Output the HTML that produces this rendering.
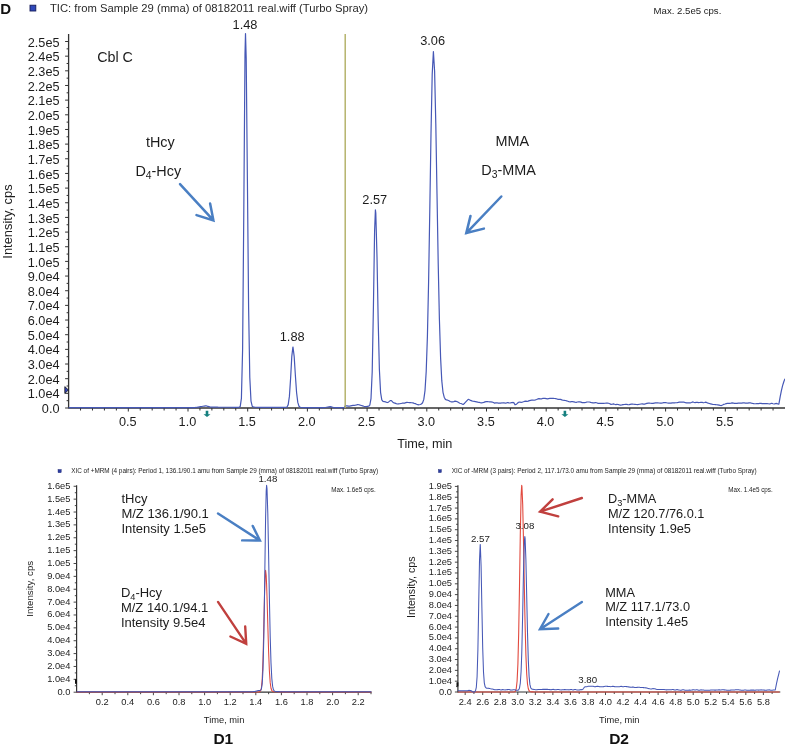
<!DOCTYPE html><html><head><meta charset="utf-8"><style>html,body{margin:0;padding:0;background:#fff;}svg{display:block;will-change:transform;}</style></head><body>
<svg width="785" height="748" viewBox="0 0 785 748" font-family='"Liberation Sans", sans-serif'>
<rect width="785" height="748" fill="#fff"/>
<text x="0.3" y="13.8" font-size="15" text-anchor="start" font-weight="bold" fill="#111" >D</text>
<rect x="30" y="5.2" width="5.8" height="5.8" fill="#3049bb" stroke="#161c5a" stroke-width="0.9"/>
<text x="50" y="12.3" font-size="11.25" text-anchor="start" font-weight="normal" fill="#2a2a2a" >TIC: from Sample 29 (mma) of 08182011 real.wiff (Turbo Spray)</text>
<text x="653.6" y="14.1" font-size="9.6" text-anchor="start" font-weight="normal" fill="#1c1c1c" >Max. 2.5e5 cps.</text>
<line x1="65.1" y1="408" x2="68.6" y2="408" stroke="#333" stroke-width="1" />
<line x1="66.6" y1="400.67" x2="68.6" y2="400.67" stroke="#333" stroke-width="1" />
<text x="59.5" y="413.1" font-size="12.7" text-anchor="end" font-weight="normal" fill="#1c1c1c" >0.0</text>
<line x1="65.1" y1="393.34" x2="68.6" y2="393.34" stroke="#333" stroke-width="1" />
<line x1="66.6" y1="386.01" x2="68.6" y2="386.01" stroke="#333" stroke-width="1" />
<text x="59.5" y="398.44" font-size="12.7" text-anchor="end" font-weight="normal" fill="#1c1c1c" >1.0e4</text>
<line x1="65.1" y1="378.68" x2="68.6" y2="378.68" stroke="#333" stroke-width="1" />
<line x1="66.6" y1="371.35" x2="68.6" y2="371.35" stroke="#333" stroke-width="1" />
<text x="59.5" y="383.78" font-size="12.7" text-anchor="end" font-weight="normal" fill="#1c1c1c" >2.0e4</text>
<line x1="65.1" y1="364.02" x2="68.6" y2="364.02" stroke="#333" stroke-width="1" />
<line x1="66.6" y1="356.69" x2="68.6" y2="356.69" stroke="#333" stroke-width="1" />
<text x="59.5" y="369.12" font-size="12.7" text-anchor="end" font-weight="normal" fill="#1c1c1c" >3.0e4</text>
<line x1="65.1" y1="349.36" x2="68.6" y2="349.36" stroke="#333" stroke-width="1" />
<line x1="66.6" y1="342.03" x2="68.6" y2="342.03" stroke="#333" stroke-width="1" />
<text x="59.5" y="354.46" font-size="12.7" text-anchor="end" font-weight="normal" fill="#1c1c1c" >4.0e4</text>
<line x1="65.1" y1="334.7" x2="68.6" y2="334.7" stroke="#333" stroke-width="1" />
<line x1="66.6" y1="327.37" x2="68.6" y2="327.37" stroke="#333" stroke-width="1" />
<text x="59.5" y="339.8" font-size="12.7" text-anchor="end" font-weight="normal" fill="#1c1c1c" >5.0e4</text>
<line x1="65.1" y1="320.04" x2="68.6" y2="320.04" stroke="#333" stroke-width="1" />
<line x1="66.6" y1="312.71" x2="68.6" y2="312.71" stroke="#333" stroke-width="1" />
<text x="59.5" y="325.14" font-size="12.7" text-anchor="end" font-weight="normal" fill="#1c1c1c" >6.0e4</text>
<line x1="65.1" y1="305.38" x2="68.6" y2="305.38" stroke="#333" stroke-width="1" />
<line x1="66.6" y1="298.05" x2="68.6" y2="298.05" stroke="#333" stroke-width="1" />
<text x="59.5" y="310.48" font-size="12.7" text-anchor="end" font-weight="normal" fill="#1c1c1c" >7.0e4</text>
<line x1="65.1" y1="290.72" x2="68.6" y2="290.72" stroke="#333" stroke-width="1" />
<line x1="66.6" y1="283.39" x2="68.6" y2="283.39" stroke="#333" stroke-width="1" />
<text x="59.5" y="295.82" font-size="12.7" text-anchor="end" font-weight="normal" fill="#1c1c1c" >8.0e4</text>
<line x1="65.1" y1="276.06" x2="68.6" y2="276.06" stroke="#333" stroke-width="1" />
<line x1="66.6" y1="268.73" x2="68.6" y2="268.73" stroke="#333" stroke-width="1" />
<text x="59.5" y="281.16" font-size="12.7" text-anchor="end" font-weight="normal" fill="#1c1c1c" >9.0e4</text>
<line x1="65.1" y1="261.4" x2="68.6" y2="261.4" stroke="#333" stroke-width="1" />
<line x1="66.6" y1="254.07" x2="68.6" y2="254.07" stroke="#333" stroke-width="1" />
<text x="59.5" y="266.5" font-size="12.7" text-anchor="end" font-weight="normal" fill="#1c1c1c" >1.0e5</text>
<line x1="65.1" y1="246.74" x2="68.6" y2="246.74" stroke="#333" stroke-width="1" />
<line x1="66.6" y1="239.41" x2="68.6" y2="239.41" stroke="#333" stroke-width="1" />
<text x="59.5" y="251.84" font-size="12.7" text-anchor="end" font-weight="normal" fill="#1c1c1c" >1.1e5</text>
<line x1="65.1" y1="232.08" x2="68.6" y2="232.08" stroke="#333" stroke-width="1" />
<line x1="66.6" y1="224.75" x2="68.6" y2="224.75" stroke="#333" stroke-width="1" />
<text x="59.5" y="237.18" font-size="12.7" text-anchor="end" font-weight="normal" fill="#1c1c1c" >1.2e5</text>
<line x1="65.1" y1="217.42" x2="68.6" y2="217.42" stroke="#333" stroke-width="1" />
<line x1="66.6" y1="210.09" x2="68.6" y2="210.09" stroke="#333" stroke-width="1" />
<text x="59.5" y="222.52" font-size="12.7" text-anchor="end" font-weight="normal" fill="#1c1c1c" >1.3e5</text>
<line x1="65.1" y1="202.76" x2="68.6" y2="202.76" stroke="#333" stroke-width="1" />
<line x1="66.6" y1="195.43" x2="68.6" y2="195.43" stroke="#333" stroke-width="1" />
<text x="59.5" y="207.86" font-size="12.7" text-anchor="end" font-weight="normal" fill="#1c1c1c" >1.4e5</text>
<line x1="65.1" y1="188.1" x2="68.6" y2="188.1" stroke="#333" stroke-width="1" />
<line x1="66.6" y1="180.77" x2="68.6" y2="180.77" stroke="#333" stroke-width="1" />
<text x="59.5" y="193.2" font-size="12.7" text-anchor="end" font-weight="normal" fill="#1c1c1c" >1.5e5</text>
<line x1="65.1" y1="173.44" x2="68.6" y2="173.44" stroke="#333" stroke-width="1" />
<line x1="66.6" y1="166.11" x2="68.6" y2="166.11" stroke="#333" stroke-width="1" />
<text x="59.5" y="178.54" font-size="12.7" text-anchor="end" font-weight="normal" fill="#1c1c1c" >1.6e5</text>
<line x1="65.1" y1="158.78" x2="68.6" y2="158.78" stroke="#333" stroke-width="1" />
<line x1="66.6" y1="151.45" x2="68.6" y2="151.45" stroke="#333" stroke-width="1" />
<text x="59.5" y="163.88" font-size="12.7" text-anchor="end" font-weight="normal" fill="#1c1c1c" >1.7e5</text>
<line x1="65.1" y1="144.12" x2="68.6" y2="144.12" stroke="#333" stroke-width="1" />
<line x1="66.6" y1="136.79" x2="68.6" y2="136.79" stroke="#333" stroke-width="1" />
<text x="59.5" y="149.22" font-size="12.7" text-anchor="end" font-weight="normal" fill="#1c1c1c" >1.8e5</text>
<line x1="65.1" y1="129.46" x2="68.6" y2="129.46" stroke="#333" stroke-width="1" />
<line x1="66.6" y1="122.13" x2="68.6" y2="122.13" stroke="#333" stroke-width="1" />
<text x="59.5" y="134.56" font-size="12.7" text-anchor="end" font-weight="normal" fill="#1c1c1c" >1.9e5</text>
<line x1="65.1" y1="114.8" x2="68.6" y2="114.8" stroke="#333" stroke-width="1" />
<line x1="66.6" y1="107.47" x2="68.6" y2="107.47" stroke="#333" stroke-width="1" />
<text x="59.5" y="119.9" font-size="12.7" text-anchor="end" font-weight="normal" fill="#1c1c1c" >2.0e5</text>
<line x1="65.1" y1="100.14" x2="68.6" y2="100.14" stroke="#333" stroke-width="1" />
<line x1="66.6" y1="92.81" x2="68.6" y2="92.81" stroke="#333" stroke-width="1" />
<text x="59.5" y="105.24" font-size="12.7" text-anchor="end" font-weight="normal" fill="#1c1c1c" >2.1e5</text>
<line x1="65.1" y1="85.48" x2="68.6" y2="85.48" stroke="#333" stroke-width="1" />
<line x1="66.6" y1="78.15" x2="68.6" y2="78.15" stroke="#333" stroke-width="1" />
<text x="59.5" y="90.58" font-size="12.7" text-anchor="end" font-weight="normal" fill="#1c1c1c" >2.2e5</text>
<line x1="65.1" y1="70.82" x2="68.6" y2="70.82" stroke="#333" stroke-width="1" />
<line x1="66.6" y1="63.49" x2="68.6" y2="63.49" stroke="#333" stroke-width="1" />
<text x="59.5" y="75.92" font-size="12.7" text-anchor="end" font-weight="normal" fill="#1c1c1c" >2.3e5</text>
<line x1="65.1" y1="56.16" x2="68.6" y2="56.16" stroke="#333" stroke-width="1" />
<line x1="66.6" y1="48.83" x2="68.6" y2="48.83" stroke="#333" stroke-width="1" />
<text x="59.5" y="61.26" font-size="12.7" text-anchor="end" font-weight="normal" fill="#1c1c1c" >2.4e5</text>
<line x1="65.1" y1="41.5" x2="68.6" y2="41.5" stroke="#333" stroke-width="1" />
<text x="59.5" y="46.6" font-size="12.7" text-anchor="end" font-weight="normal" fill="#1c1c1c" >2.5e5</text>
<line x1="68.6" y1="34" x2="68.6" y2="408.5" stroke="#333" stroke-width="1.3" />
<line x1="68.6" y1="408" x2="785" y2="408" stroke="#333" stroke-width="1.3" />
<line x1="80.54" y1="408" x2="80.54" y2="410.5" stroke="#333" stroke-width="1" />
<line x1="92.48" y1="408" x2="92.48" y2="410.5" stroke="#333" stroke-width="1" />
<line x1="104.42" y1="408" x2="104.42" y2="410.5" stroke="#333" stroke-width="1" />
<line x1="116.36" y1="408" x2="116.36" y2="410.5" stroke="#333" stroke-width="1" />
<line x1="128.3" y1="408" x2="128.3" y2="411.5" stroke="#333" stroke-width="1" />
<line x1="140.24" y1="408" x2="140.24" y2="410.5" stroke="#333" stroke-width="1" />
<line x1="152.18" y1="408" x2="152.18" y2="410.5" stroke="#333" stroke-width="1" />
<line x1="164.12" y1="408" x2="164.12" y2="410.5" stroke="#333" stroke-width="1" />
<line x1="176.06" y1="408" x2="176.06" y2="410.5" stroke="#333" stroke-width="1" />
<line x1="188" y1="408" x2="188" y2="411.5" stroke="#333" stroke-width="1" />
<line x1="199.94" y1="408" x2="199.94" y2="410.5" stroke="#333" stroke-width="1" />
<line x1="211.88" y1="408" x2="211.88" y2="410.5" stroke="#333" stroke-width="1" />
<line x1="223.82" y1="408" x2="223.82" y2="410.5" stroke="#333" stroke-width="1" />
<line x1="235.76" y1="408" x2="235.76" y2="410.5" stroke="#333" stroke-width="1" />
<line x1="247.7" y1="408" x2="247.7" y2="411.5" stroke="#333" stroke-width="1" />
<line x1="259.64" y1="408" x2="259.64" y2="410.5" stroke="#333" stroke-width="1" />
<line x1="271.58" y1="408" x2="271.58" y2="410.5" stroke="#333" stroke-width="1" />
<line x1="283.52" y1="408" x2="283.52" y2="410.5" stroke="#333" stroke-width="1" />
<line x1="295.46" y1="408" x2="295.46" y2="410.5" stroke="#333" stroke-width="1" />
<line x1="307.4" y1="408" x2="307.4" y2="411.5" stroke="#333" stroke-width="1" />
<line x1="319.34" y1="408" x2="319.34" y2="410.5" stroke="#333" stroke-width="1" />
<line x1="331.28" y1="408" x2="331.28" y2="410.5" stroke="#333" stroke-width="1" />
<line x1="343.22" y1="408" x2="343.22" y2="410.5" stroke="#333" stroke-width="1" />
<line x1="355.16" y1="408" x2="355.16" y2="410.5" stroke="#333" stroke-width="1" />
<line x1="367.1" y1="408" x2="367.1" y2="411.5" stroke="#333" stroke-width="1" />
<line x1="379.04" y1="408" x2="379.04" y2="410.5" stroke="#333" stroke-width="1" />
<line x1="390.98" y1="408" x2="390.98" y2="410.5" stroke="#333" stroke-width="1" />
<line x1="402.92" y1="408" x2="402.92" y2="410.5" stroke="#333" stroke-width="1" />
<line x1="414.86" y1="408" x2="414.86" y2="410.5" stroke="#333" stroke-width="1" />
<line x1="426.8" y1="408" x2="426.8" y2="411.5" stroke="#333" stroke-width="1" />
<line x1="438.74" y1="408" x2="438.74" y2="410.5" stroke="#333" stroke-width="1" />
<line x1="450.68" y1="408" x2="450.68" y2="410.5" stroke="#333" stroke-width="1" />
<line x1="462.62" y1="408" x2="462.62" y2="410.5" stroke="#333" stroke-width="1" />
<line x1="474.56" y1="408" x2="474.56" y2="410.5" stroke="#333" stroke-width="1" />
<line x1="486.5" y1="408" x2="486.5" y2="411.5" stroke="#333" stroke-width="1" />
<line x1="498.44" y1="408" x2="498.44" y2="410.5" stroke="#333" stroke-width="1" />
<line x1="510.38" y1="408" x2="510.38" y2="410.5" stroke="#333" stroke-width="1" />
<line x1="522.32" y1="408" x2="522.32" y2="410.5" stroke="#333" stroke-width="1" />
<line x1="534.26" y1="408" x2="534.26" y2="410.5" stroke="#333" stroke-width="1" />
<line x1="546.2" y1="408" x2="546.2" y2="411.5" stroke="#333" stroke-width="1" />
<line x1="558.14" y1="408" x2="558.14" y2="410.5" stroke="#333" stroke-width="1" />
<line x1="570.08" y1="408" x2="570.08" y2="410.5" stroke="#333" stroke-width="1" />
<line x1="582.02" y1="408" x2="582.02" y2="410.5" stroke="#333" stroke-width="1" />
<line x1="593.96" y1="408" x2="593.96" y2="410.5" stroke="#333" stroke-width="1" />
<line x1="605.9" y1="408" x2="605.9" y2="411.5" stroke="#333" stroke-width="1" />
<line x1="617.84" y1="408" x2="617.84" y2="410.5" stroke="#333" stroke-width="1" />
<line x1="629.78" y1="408" x2="629.78" y2="410.5" stroke="#333" stroke-width="1" />
<line x1="641.72" y1="408" x2="641.72" y2="410.5" stroke="#333" stroke-width="1" />
<line x1="653.66" y1="408" x2="653.66" y2="410.5" stroke="#333" stroke-width="1" />
<line x1="665.6" y1="408" x2="665.6" y2="411.5" stroke="#333" stroke-width="1" />
<line x1="677.54" y1="408" x2="677.54" y2="410.5" stroke="#333" stroke-width="1" />
<line x1="689.48" y1="408" x2="689.48" y2="410.5" stroke="#333" stroke-width="1" />
<line x1="701.42" y1="408" x2="701.42" y2="410.5" stroke="#333" stroke-width="1" />
<line x1="713.36" y1="408" x2="713.36" y2="410.5" stroke="#333" stroke-width="1" />
<line x1="725.3" y1="408" x2="725.3" y2="411.5" stroke="#333" stroke-width="1" />
<line x1="737.24" y1="408" x2="737.24" y2="410.5" stroke="#333" stroke-width="1" />
<line x1="749.18" y1="408" x2="749.18" y2="410.5" stroke="#333" stroke-width="1" />
<line x1="761.12" y1="408" x2="761.12" y2="410.5" stroke="#333" stroke-width="1" />
<line x1="773.06" y1="408" x2="773.06" y2="410.5" stroke="#333" stroke-width="1" />
<text x="127.7" y="426" font-size="12.7" text-anchor="middle" font-weight="normal" fill="#1c1c1c" >0.5</text>
<text x="187.4" y="426" font-size="12.7" text-anchor="middle" font-weight="normal" fill="#1c1c1c" >1.0</text>
<text x="247.1" y="426" font-size="12.7" text-anchor="middle" font-weight="normal" fill="#1c1c1c" >1.5</text>
<text x="306.8" y="426" font-size="12.7" text-anchor="middle" font-weight="normal" fill="#1c1c1c" >2.0</text>
<text x="366.5" y="426" font-size="12.7" text-anchor="middle" font-weight="normal" fill="#1c1c1c" >2.5</text>
<text x="426.2" y="426" font-size="12.7" text-anchor="middle" font-weight="normal" fill="#1c1c1c" >3.0</text>
<text x="485.9" y="426" font-size="12.7" text-anchor="middle" font-weight="normal" fill="#1c1c1c" >3.5</text>
<text x="545.6" y="426" font-size="12.7" text-anchor="middle" font-weight="normal" fill="#1c1c1c" >4.0</text>
<text x="605.3" y="426" font-size="12.7" text-anchor="middle" font-weight="normal" fill="#1c1c1c" >4.5</text>
<text x="665" y="426" font-size="12.7" text-anchor="middle" font-weight="normal" fill="#1c1c1c" >5.0</text>
<text x="724.7" y="426" font-size="12.7" text-anchor="middle" font-weight="normal" fill="#1c1c1c" >5.5</text>
<text x="424.8" y="447.9" font-size="12.7" text-anchor="middle" font-weight="normal" fill="#1c1c1c" >Time, min</text>
<text x="0" y="0" font-size="12.9" text-anchor="middle" font-weight="normal" fill="#1c1c1c" transform="translate(11.8,221.5) rotate(-90)">Intensity, cps</text>
<path d="M68.6,407.6 L69.8,407.6 L71,407.6 L72.2,407.6 L73.4,407.6 L74.6,407.6 L75.8,407.6 L77,407.6 L78.2,407.6 L79.4,407.6 L80.6,407.6 L81.8,407.6 L83,407.6 L84.2,407.6 L85.4,407.6 L86.6,407.6 L87.8,407.6 L89,407.6 L90.2,407.6 L91.4,407.6 L92.6,407.6 L93.8,407.6 L95,407.6 L96.2,407.6 L97.4,407.6 L98.6,407.6 L99.8,407.6 L101,407.6 L102.2,407.6 L103.4,407.6 L104.6,407.6 L105.8,407.6 L107,407.6 L108.2,407.6 L109.4,407.6 L110.6,407.6 L111.8,407.6 L113,407.6 L114.2,407.6 L115.4,407.6 L116.6,407.6 L117.8,407.6 L119,407.6 L120.2,407.6 L121.4,407.6 L122.6,407.6 L123.8,407.6 L125,407.6 L126.2,407.6 L127.4,407.6 L128.6,407.6 L129.8,407.6 L131,407.6 L132.2,407.6 L133.4,407.6 L134.6,407.6 L135.8,407.6 L137,407.6 L138.2,407.6 L139.4,407.6 L140.6,407.6 L141.8,407.6 L143,407.6 L144.2,407.6 L145.4,407.6 L146.6,407.6 L147.8,407.6 L149,407.6 L150.2,407.6 L151.4,407.6 L152.6,407.6 L153.8,407.6 L155,407.6 L156.2,407.6 L157.4,407.6 L158.6,407.6 L159.8,407.6 L161,407.6 L162.2,407.6 L163.4,407.6 L164.6,407.6 L165.8,407.6 L167,407.6 L168.2,407.6 L169.4,407.6 L170.6,407.6 L171.8,407.6 L173,407.6 L174.2,407.6 L175.4,407.6 L176.6,407.6 L177.8,407.6 L179,407.6 L180.2,407.6 L181.4,407.6 L182.6,407.6 L183.8,407.6 L185,407.6 L186.2,407.6 L187.4,407.6 L188.6,407.6 L189.8,407.6 L191,407.6 L192.2,407.6 L193.4,407.6 L194.6,407.6 L195.8,407.47 L197,407.27 L198.2,407.07 L199.4,406.87 L200.6,406.67 L201.8,406.47 L203,406.28 L204.2,406.09 L205.4,405.9 L206.6,405.97 L207.8,406.3 L209,406.64 L210.2,406.98 L211.4,407.2 L212.6,407.21 L213.8,407.21 L215,407.21 L216.2,407.22 L217.4,407.22 L218.6,407.23 L219.8,407.23 L221,407.24 L222.2,407.24 L223.4,407.24 L224.6,407.25 L225.8,407.25 L227,407.26 L228.2,407.26 L229.4,407.26 L230.6,407.27 L231.8,407.27 L233,407.28 L234.2,407.28 L235.4,407.29 L236.6,407.29 L237.8,407.29 L239,407.27 L240.2,406.58 L241.4,398.39 L242.6,349.65 L243.8,210.7 L245,53.81 L245.5,33.62 L246.2,57.91 L247.4,179.74 L248.6,307.48 L249.8,377.57 L251,401.04 L252.2,406.17 L253.4,407 L254.6,407.16 L255.8,407.23 L257,407.27 L258.2,407.31 L259.4,407.33 L260.6,407.35 L261.8,407.36 L263,407.37 L264.2,407.38 L265.4,407.39 L266.6,407.39 L267.8,407.4 L269,407.4 L270.2,407.41 L271.4,407.41 L272.6,407.42 L273.8,407.42 L275,407.42 L276.2,407.43 L277.4,407.43 L278.6,407.44 L279.8,407.44 L281,407.45 L282.2,407.45 L283.4,407.45 L284.6,407.45 L285.8,407.41 L287,406.98 L288.2,404.63 L289.4,396.39 L290.6,378.4 L291.8,356.32 L292.9,346.99 L293,347.05 L294.2,356.68 L295.4,375.78 L296.6,392.79 L297.8,402.44 L299,406.21 L300.2,407.27 L301.4,407.48 L302.6,407.52 L303.8,407.53 L305,407.53 L306.2,407.53 L307.4,407.54 L308.6,407.54 L309.8,407.55 L311,407.55 L312.2,407.56 L313.4,407.56 L314.6,407.56 L315.8,407.57 L317,407.57 L318.2,407.58 L319.4,407.58 L320.6,407.58 L321.8,407.59 L323,407.59 L324.2,407.6 L325.4,407.52 L326.6,407.28 L327.8,407.04 L329,406.8 L330.2,406.65 L331.4,406.95 L332.6,407.25 L333.8,407.55 L335,407.6 L336.2,407.6 L337.4,407.6 L338.6,407.6 L339.8,407.6 L341,407.6 L342.2,407.6 L343.4,407.6 L344.6,407.6 L344.6,407.6 L345,406 L345.8,405.94 L347,405.94 L348.2,406.07 L349.4,406.22 L350.6,405.87 L351.8,405.58 L353,405.45 L354.2,405.32 L355.4,405.2 L356.6,404.94 L357.8,404.53 L359,404.78 L360.2,405.18 L361.4,405.47 L362.6,405.83 L363.8,406.3 L365,406.69 L366.2,406.65 L367.4,406.46 L368.6,406.25 L369.8,405.06 L371,398.52 L372.2,372.08 L373.4,307.81 L374.6,230.66 L375.4,209.94 L375.8,213.16 L377,257.02 L378.2,321.35 L379.4,369.75 L380.6,392.61 L381.8,399.85 L383,401.44 L384.2,401.53 L385.4,401.82 L386.6,402.29 L387.8,402.53 L389,401.61 L390.2,400.64 L391.4,400.66 L392.6,401.91 L393.8,402.86 L395,403.13 L396.2,403.58 L397.4,403.98 L398.6,403.87 L399.8,403.75 L401,403.49 L402.2,403.21 L403.4,403.17 L404.6,403.05 L405.8,402.7 L407,402.44 L408.2,402.5 L409.4,402.66 L410.6,402.61 L411.8,402.73 L413,402.94 L414.2,403.32 L415.4,403.67 L416.6,404.21 L417.8,404.7 L419,404.78 L420.2,404.5 L421.4,403.97 L422.6,402.75 L423.8,399.41 L425,390.59 L426.2,371.57 L427.4,336.63 L428.6,281.77 L429.8,209.88 L431,133.84 L432.2,74.39 L433.4,51.62 L433.4,51.62 L434.6,71.07 L435.8,123.76 L437,193.78 L438.2,263.08 L439.4,319.1 L440.6,357.87 L441.8,380.92 L443,392.27 L444.2,397.22 L445.4,399.38 L446.6,400 L447.8,400.19 L449,400.73 L450.2,401.53 L451.4,401.84 L452.6,401.9 L453.8,401.58 L455,401.19 L456.2,401.42 L457.4,401.71 L458.6,402.55 L459.8,403.26 L461,403.52 L462.2,404.07 L463.4,404.37 L464.6,403.2 L465.8,401.81 L467,400.54 L468.2,399.3 L469.4,399.77 L470.6,400.43 L471.8,400.89 L473,401.24 L474.2,401.35 L475.4,401.55 L476.6,401.84 L477.8,402.14 L479,402.29 L480.2,402.61 L481.4,402.89 L482.6,402.67 L483.8,402.4 L485,401.91 L486.2,401.58 L487.4,401.62 L488.6,401.76 L489.8,401.82 L491,401.92 L492.2,402.04 L493.4,402.55 L494.6,403.14 L495.8,402.91 L497,402.79 L498.2,403.1 L499.4,403.2 L500.6,403.11 L501.8,402.97 L503,402.78 L504.2,402.92 L505.4,403.21 L506.6,402.94 L507.8,402.55 L509,402.82 L510.2,403 L511.4,402.65 L512.6,402.47 L513.8,402.62 L515,404.77 L516.2,404.42 L517.4,403.32 L518.6,402.28 L519.8,402.03 L521,402.3 L522.2,402.06 L523.4,401.78 L524.6,401.33 L525.8,401.11 L527,401.31 L528.2,401.14 L529.4,400.59 L530.6,400.34 L531.8,400.21 L533,400.22 L534.2,400.26 L535.4,399.89 L536.6,399.49 L537.8,398.93 L539,398.66 L540.2,398.95 L541.4,398.91 L542.6,398.44 L543.8,398.3 L545,398.33 L546.2,398.59 L547.4,398.9 L548.6,398.63 L549.8,398.41 L551,398.39 L552.2,398.43 L553.4,398.43 L554.6,398.5 L555.8,398.65 L557,398.98 L558.2,399.41 L559.4,399.42 L560.6,399.38 L561.8,399.84 L563,400.23 L564.2,400.34 L565.4,400.51 L566.6,400.8 L567.8,401.22 L569,401.76 L570.2,401.8 L571.4,401.61 L572.6,401.71 L573.8,401.87 L575,402.15 L576.2,402.32 L577.4,402.01 L578.6,401.84 L579.8,401.92 L581,402.15 L582.2,402.6 L583.4,402.71 L584.6,402.66 L585.8,402.37 L587,402.02 L588.2,401.99 L589.4,402.01 L590.6,402.34 L591.8,402.7 L593,402.91 L594.2,402.84 L595.4,402.49 L596.6,402.73 L597.8,403.28 L599,403.41 L600.2,403.46 L601.4,403.39 L602.6,403.33 L603.8,403.31 L605,403.27 L606.2,403.19 L607.4,403.18 L608.6,403.26 L609.8,403.72 L611,404.39 L612.2,404.23 L613.4,403.9 L614.6,404.29 L615.8,404.59 L617,404.44 L618.2,404.48 L619.4,404.93 L620.6,405.07 L621.8,404.91 L623,404.71 L624.2,404.5 L625.4,404.39 L626.6,404.29 L627.8,404.58 L629,404.76 L630.2,404.34 L631.4,404.09 L632.6,404.15 L633.8,404.24 L635,404.37 L636.2,404.49 L637.4,404.6 L638.6,404.45 L639.8,404.24 L641,403.98 L642.2,403.81 L643.4,404.13 L644.6,404.18 L645.8,403.69 L647,403.36 L648.2,403.18 L649.4,403.18 L650.6,403.27 L651.8,403.32 L653,403.38 L654.2,403.09 L655.4,402.86 L656.6,402.88 L657.8,402.91 L659,402.98 L660.2,403.04 L661.4,403.11 L662.6,402.93 L663.8,402.61 L665,402.63 L666.2,402.72 L667.4,402.98 L668.6,403.21 L669.8,403.21 L671,403.13 L672.2,402.88 L673.4,402.78 L674.6,402.79 L675.8,402.75 L677,402.68 L678.2,402.44 L679.4,402.16 L680.6,402.09 L681.8,402.03 L683,402.01 L684.2,402.18 L685.4,402.71 L686.6,402.91 L687.8,402.77 L689,402.83 L690.2,402.97 L691.4,402.51 L692.6,401.93 L693.8,402.28 L695,402.56 L696.2,402.45 L697.4,402.42 L698.6,402.55 L699.8,402.49 L701,402.22 L702.2,402.4 L703.4,402.79 L704.6,402.5 L705.8,402.17 L707,402.68 L708.2,403.16 L709.4,403.5 L710.6,403.84 L711.8,404.16 L713,404.39 L714.2,404.52 L715.4,404.64 L716.6,404.77 L717.8,404.96 L719,405.16 L720.2,405.38 L721.4,405.53 L722.6,405.01 L723.8,404.34 L725,404.03 L726.2,403.69 L727.4,403.4 L728.6,403.43 L729.8,403.41 L731,403.18 L732.2,402.91 L733.4,403.13 L734.6,403.33 L735.8,403.37 L737,403.34 L738.2,403.17 L739.4,403.1 L740.6,403.13 L741.8,403.04 L743,402.89 L744.2,402.97 L745.4,403.09 L746.6,403.12 L747.8,403.12 L749,402.83 L750.2,402.77 L751.4,403.14 L752.6,403.45 L753.8,403.69 L755,403.75 L756.2,403.72 L757.4,403.66 L758.6,403.61 L759.8,403.44 L761,403.34 L762.2,403.58 L763.4,403.72 L764.6,403.66 L765.8,403.61 L767,403.56 L768.2,403.73 L769.4,404 L770.6,403.69 L771.8,403.28 L773,403.71 L774.2,404.01 L775.4,403.61 L776.6,403.47 L777.8,403.86 L778.9,404.08 L779,403.45 L780.2,396.55 L781.4,390.66 L782.6,385.66 L783.8,381.79 L785,378.63" fill="none" stroke="#4658b6" stroke-width="1.2" stroke-linejoin="round" />
<line x1="345.2" y1="34.1" x2="345.2" y2="408" stroke="#b0ae62" stroke-width="1.4" />
<path d="M64.8,386.6 L68.4,390 L64.8,393.4 Z" fill="#3344bb" stroke="#111" stroke-width="0.8"/>
<path d="M205.7,410.8 h2.6 v3.4 h2.2 l-3.5,2.7 l-3.5,-2.7 h2.2 Z" fill="#15807f"/>
<path d="M563.6,410.8 h2.6 v3.4 h2.2 l-3.5,2.7 l-3.5,-2.7 h2.2 Z" fill="#15807f"/>
<text x="245" y="28.9" font-size="12.8" text-anchor="middle" font-weight="normal" fill="#1c1c1c" >1.48</text>
<text x="432.6" y="45.2" font-size="12.8" text-anchor="middle" font-weight="normal" fill="#1c1c1c" >3.06</text>
<text x="374.8" y="203.5" font-size="12.8" text-anchor="middle" font-weight="normal" fill="#1c1c1c" >2.57</text>
<text x="292.2" y="341" font-size="12.8" text-anchor="middle" font-weight="normal" fill="#1c1c1c" >1.88</text>
<text x="97.2" y="62.1" font-size="14.3" text-anchor="start" font-weight="normal" fill="#1c1c1c" >Cbl C</text>
<text x="145.9" y="146.8" font-size="14.4" text-anchor="start" font-weight="normal" fill="#1c1c1c" >tHcy</text>
<text x="135.4" y="175.5" font-size="14.4" fill="#1c1c1c">D<tspan font-size="10.3" dy="3">4</tspan><tspan dy="-3">-Hcy</tspan></text>
<text x="495.6" y="146.2" font-size="14.4" text-anchor="start" font-weight="normal" fill="#1c1c1c" >MMA</text>
<text x="481.3" y="174.8" font-size="14.4" fill="#1c1c1c">D<tspan font-size="10.3" dy="3">3</tspan><tspan dy="-3">-MMA</tspan></text>
<path d="M180,184.2 L213.42,220.37 M196.5,215.1 L213.42,220.37 L210.1,203.5" fill="none" stroke="#4a7fc3" stroke-width="2.5" stroke-linecap="round" stroke-linejoin="miter"/>
<path d="M501.3,196.5 L466.29,233.08 M470.5,215.9 L466.29,233.08 L483.9,228.6" fill="none" stroke="#4a7fc3" stroke-width="2.5" stroke-linecap="round" stroke-linejoin="miter"/>
<rect x="58" y="469.5" width="3.2" height="3.2" fill="#2c3da0" stroke="#1b2470" stroke-width="0.4"/>
<text x="71.2" y="473.1" font-size="6.38" text-anchor="start" font-weight="normal" fill="#1c1c1c" >XIC of +MRM (4 pairs): Period 1, 136.1/90.1 amu from Sample 29 (mma) of 08182011 real.wiff (Turbo Spray)</text>
<text x="331.2" y="492.1" font-size="6.3" text-anchor="start" font-weight="normal" fill="#1c1c1c" >Max. 1.6e5 cps.</text>
<line x1="73.6" y1="692.2" x2="76.6" y2="692.2" stroke="#333" stroke-width="0.9" />
<line x1="74.8" y1="685.77" x2="76.6" y2="685.77" stroke="#333" stroke-width="0.9" />
<text x="70.4" y="694.7" font-size="9.3" text-anchor="end" font-weight="normal" fill="#1c1c1c" >0.0</text>
<line x1="73.6" y1="679.33" x2="76.6" y2="679.33" stroke="#333" stroke-width="0.9" />
<line x1="74.8" y1="672.9" x2="76.6" y2="672.9" stroke="#333" stroke-width="0.9" />
<text x="70.4" y="681.83" font-size="9.3" text-anchor="end" font-weight="normal" fill="#1c1c1c" >1.0e4</text>
<line x1="73.6" y1="666.46" x2="76.6" y2="666.46" stroke="#333" stroke-width="0.9" />
<line x1="74.8" y1="660.03" x2="76.6" y2="660.03" stroke="#333" stroke-width="0.9" />
<text x="70.4" y="668.96" font-size="9.3" text-anchor="end" font-weight="normal" fill="#1c1c1c" >2.0e4</text>
<line x1="73.6" y1="653.59" x2="76.6" y2="653.59" stroke="#333" stroke-width="0.9" />
<line x1="74.8" y1="647.16" x2="76.6" y2="647.16" stroke="#333" stroke-width="0.9" />
<text x="70.4" y="656.09" font-size="9.3" text-anchor="end" font-weight="normal" fill="#1c1c1c" >3.0e4</text>
<line x1="73.6" y1="640.72" x2="76.6" y2="640.72" stroke="#333" stroke-width="0.9" />
<line x1="74.8" y1="634.29" x2="76.6" y2="634.29" stroke="#333" stroke-width="0.9" />
<text x="70.4" y="643.22" font-size="9.3" text-anchor="end" font-weight="normal" fill="#1c1c1c" >4.0e4</text>
<line x1="73.6" y1="627.85" x2="76.6" y2="627.85" stroke="#333" stroke-width="0.9" />
<line x1="74.8" y1="621.42" x2="76.6" y2="621.42" stroke="#333" stroke-width="0.9" />
<text x="70.4" y="630.35" font-size="9.3" text-anchor="end" font-weight="normal" fill="#1c1c1c" >5.0e4</text>
<line x1="73.6" y1="614.98" x2="76.6" y2="614.98" stroke="#333" stroke-width="0.9" />
<line x1="74.8" y1="608.55" x2="76.6" y2="608.55" stroke="#333" stroke-width="0.9" />
<text x="70.4" y="617.48" font-size="9.3" text-anchor="end" font-weight="normal" fill="#1c1c1c" >6.0e4</text>
<line x1="73.6" y1="602.11" x2="76.6" y2="602.11" stroke="#333" stroke-width="0.9" />
<line x1="74.8" y1="595.68" x2="76.6" y2="595.68" stroke="#333" stroke-width="0.9" />
<text x="70.4" y="604.61" font-size="9.3" text-anchor="end" font-weight="normal" fill="#1c1c1c" >7.0e4</text>
<line x1="73.6" y1="589.24" x2="76.6" y2="589.24" stroke="#333" stroke-width="0.9" />
<line x1="74.8" y1="582.81" x2="76.6" y2="582.81" stroke="#333" stroke-width="0.9" />
<text x="70.4" y="591.74" font-size="9.3" text-anchor="end" font-weight="normal" fill="#1c1c1c" >8.0e4</text>
<line x1="73.6" y1="576.37" x2="76.6" y2="576.37" stroke="#333" stroke-width="0.9" />
<line x1="74.8" y1="569.94" x2="76.6" y2="569.94" stroke="#333" stroke-width="0.9" />
<text x="70.4" y="578.87" font-size="9.3" text-anchor="end" font-weight="normal" fill="#1c1c1c" >9.0e4</text>
<line x1="73.6" y1="563.5" x2="76.6" y2="563.5" stroke="#333" stroke-width="0.9" />
<line x1="74.8" y1="557.07" x2="76.6" y2="557.07" stroke="#333" stroke-width="0.9" />
<text x="70.4" y="566" font-size="9.3" text-anchor="end" font-weight="normal" fill="#1c1c1c" >1.0e5</text>
<line x1="73.6" y1="550.63" x2="76.6" y2="550.63" stroke="#333" stroke-width="0.9" />
<line x1="74.8" y1="544.2" x2="76.6" y2="544.2" stroke="#333" stroke-width="0.9" />
<text x="70.4" y="553.13" font-size="9.3" text-anchor="end" font-weight="normal" fill="#1c1c1c" >1.1e5</text>
<line x1="73.6" y1="537.76" x2="76.6" y2="537.76" stroke="#333" stroke-width="0.9" />
<line x1="74.8" y1="531.33" x2="76.6" y2="531.33" stroke="#333" stroke-width="0.9" />
<text x="70.4" y="540.26" font-size="9.3" text-anchor="end" font-weight="normal" fill="#1c1c1c" >1.2e5</text>
<line x1="73.6" y1="524.89" x2="76.6" y2="524.89" stroke="#333" stroke-width="0.9" />
<line x1="74.8" y1="518.46" x2="76.6" y2="518.46" stroke="#333" stroke-width="0.9" />
<text x="70.4" y="527.39" font-size="9.3" text-anchor="end" font-weight="normal" fill="#1c1c1c" >1.3e5</text>
<line x1="73.6" y1="512.02" x2="76.6" y2="512.02" stroke="#333" stroke-width="0.9" />
<line x1="74.8" y1="505.59" x2="76.6" y2="505.59" stroke="#333" stroke-width="0.9" />
<text x="70.4" y="514.52" font-size="9.3" text-anchor="end" font-weight="normal" fill="#1c1c1c" >1.4e5</text>
<line x1="73.6" y1="499.15" x2="76.6" y2="499.15" stroke="#333" stroke-width="0.9" />
<line x1="74.8" y1="492.72" x2="76.6" y2="492.72" stroke="#333" stroke-width="0.9" />
<text x="70.4" y="501.65" font-size="9.3" text-anchor="end" font-weight="normal" fill="#1c1c1c" >1.5e5</text>
<line x1="73.6" y1="486.28" x2="76.6" y2="486.28" stroke="#333" stroke-width="0.9" />
<text x="70.4" y="488.78" font-size="9.3" text-anchor="end" font-weight="normal" fill="#1c1c1c" >1.6e5</text>
<line x1="76.6" y1="485.3" x2="76.6" y2="692.6" stroke="#333" stroke-width="1.2" />
<line x1="76.6" y1="692.2" x2="371.4" y2="692.2" stroke="#333" stroke-width="1.2" />
<line x1="89.4" y1="692.2" x2="89.4" y2="694.2" stroke="#333" stroke-width="0.9" />
<line x1="102.2" y1="692.2" x2="102.2" y2="695.2" stroke="#333" stroke-width="0.9" />
<line x1="115" y1="692.2" x2="115" y2="694.2" stroke="#333" stroke-width="0.9" />
<line x1="127.8" y1="692.2" x2="127.8" y2="695.2" stroke="#333" stroke-width="0.9" />
<line x1="140.6" y1="692.2" x2="140.6" y2="694.2" stroke="#333" stroke-width="0.9" />
<line x1="153.4" y1="692.2" x2="153.4" y2="695.2" stroke="#333" stroke-width="0.9" />
<line x1="166.2" y1="692.2" x2="166.2" y2="694.2" stroke="#333" stroke-width="0.9" />
<line x1="179" y1="692.2" x2="179" y2="695.2" stroke="#333" stroke-width="0.9" />
<line x1="191.8" y1="692.2" x2="191.8" y2="694.2" stroke="#333" stroke-width="0.9" />
<line x1="204.6" y1="692.2" x2="204.6" y2="695.2" stroke="#333" stroke-width="0.9" />
<line x1="217.4" y1="692.2" x2="217.4" y2="694.2" stroke="#333" stroke-width="0.9" />
<line x1="230.2" y1="692.2" x2="230.2" y2="695.2" stroke="#333" stroke-width="0.9" />
<line x1="243" y1="692.2" x2="243" y2="694.2" stroke="#333" stroke-width="0.9" />
<line x1="255.8" y1="692.2" x2="255.8" y2="695.2" stroke="#333" stroke-width="0.9" />
<line x1="268.6" y1="692.2" x2="268.6" y2="694.2" stroke="#333" stroke-width="0.9" />
<line x1="281.4" y1="692.2" x2="281.4" y2="695.2" stroke="#333" stroke-width="0.9" />
<line x1="294.2" y1="692.2" x2="294.2" y2="694.2" stroke="#333" stroke-width="0.9" />
<line x1="307" y1="692.2" x2="307" y2="695.2" stroke="#333" stroke-width="0.9" />
<line x1="319.8" y1="692.2" x2="319.8" y2="694.2" stroke="#333" stroke-width="0.9" />
<line x1="332.6" y1="692.2" x2="332.6" y2="695.2" stroke="#333" stroke-width="0.9" />
<line x1="345.4" y1="692.2" x2="345.4" y2="694.2" stroke="#333" stroke-width="0.9" />
<line x1="358.2" y1="692.2" x2="358.2" y2="695.2" stroke="#333" stroke-width="0.9" />
<line x1="371" y1="692.2" x2="371" y2="694.2" stroke="#333" stroke-width="0.9" />
<text x="102.2" y="705.3" font-size="9.3" text-anchor="middle" font-weight="normal" fill="#1c1c1c" >0.2</text>
<text x="127.8" y="705.3" font-size="9.3" text-anchor="middle" font-weight="normal" fill="#1c1c1c" >0.4</text>
<text x="153.4" y="705.3" font-size="9.3" text-anchor="middle" font-weight="normal" fill="#1c1c1c" >0.6</text>
<text x="179" y="705.3" font-size="9.3" text-anchor="middle" font-weight="normal" fill="#1c1c1c" >0.8</text>
<text x="204.6" y="705.3" font-size="9.3" text-anchor="middle" font-weight="normal" fill="#1c1c1c" >1.0</text>
<text x="230.2" y="705.3" font-size="9.3" text-anchor="middle" font-weight="normal" fill="#1c1c1c" >1.2</text>
<text x="255.8" y="705.3" font-size="9.3" text-anchor="middle" font-weight="normal" fill="#1c1c1c" >1.4</text>
<text x="281.4" y="705.3" font-size="9.3" text-anchor="middle" font-weight="normal" fill="#1c1c1c" >1.6</text>
<text x="307" y="705.3" font-size="9.3" text-anchor="middle" font-weight="normal" fill="#1c1c1c" >1.8</text>
<text x="332.6" y="705.3" font-size="9.3" text-anchor="middle" font-weight="normal" fill="#1c1c1c" >2.0</text>
<text x="358.2" y="705.3" font-size="9.3" text-anchor="middle" font-weight="normal" fill="#1c1c1c" >2.2</text>
<text x="224.1" y="722.7" font-size="9.3" text-anchor="middle" font-weight="normal" fill="#1c1c1c" >Time, min</text>
<text x="0" y="0" font-size="9.7" text-anchor="middle" font-weight="normal" fill="#1c1c1c" transform="translate(33.3,588.8) rotate(-90)">Intensity, cps</text>
<text x="223.3" y="744.4" font-size="15.5" text-anchor="middle" font-weight="bold" fill="#111" >D1</text>
<rect x="75" y="679.2" width="1.9" height="4.6" fill="#111"/>
<path d="M76.6,691.9 L77.4,691.9 L78.2,691.9 L79,691.9 L79.8,691.9 L80.6,691.9 L81.4,691.9 L82.2,691.9 L83,691.9 L83.8,691.9 L84.6,691.9 L85.4,691.9 L86.2,691.9 L87,691.9 L87.8,691.9 L88.6,691.9 L89.4,691.9 L90.2,691.9 L91,691.9 L91.8,691.9 L92.6,691.9 L93.4,691.9 L94.2,691.9 L95,691.9 L95.8,691.9 L96.6,691.9 L97.4,691.9 L98.2,691.9 L99,691.9 L99.8,691.9 L100.6,691.9 L101.4,691.9 L102.2,691.9 L103,691.9 L103.8,691.9 L104.6,691.9 L105.4,691.9 L106.2,691.9 L107,691.9 L107.8,691.9 L108.6,691.9 L109.4,691.9 L110.2,691.9 L111,691.9 L111.8,691.9 L112.6,691.9 L113.4,691.9 L114.2,691.9 L115,691.9 L115.8,691.9 L116.6,691.9 L117.4,691.9 L118.2,691.9 L119,691.9 L119.8,691.9 L120.6,691.9 L121.4,691.9 L122.2,691.9 L123,691.9 L123.8,691.9 L124.6,691.9 L125.4,691.9 L126.2,691.9 L127,691.9 L127.8,691.9 L128.6,691.9 L129.4,691.9 L130.2,691.9 L131,691.9 L131.8,691.9 L132.6,691.9 L133.4,691.9 L134.2,691.9 L135,691.9 L135.8,691.9 L136.6,691.9 L137.4,691.9 L138.2,691.9 L139,691.9 L139.8,691.9 L140.6,691.9 L141.4,691.9 L142.2,691.9 L143,691.9 L143.8,691.9 L144.6,691.9 L145.4,691.9 L146.2,691.9 L147,691.9 L147.8,691.9 L148.6,691.9 L149.4,691.9 L150.2,691.9 L151,691.9 L151.8,691.9 L152.6,691.9 L153.4,691.9 L154.2,691.9 L155,691.9 L155.8,691.9 L156.6,691.9 L157.4,691.9 L158.2,691.9 L159,691.9 L159.8,691.9 L160.6,691.9 L161.4,691.9 L162.2,691.9 L163,691.9 L163.8,691.9 L164.6,691.9 L165.4,691.9 L166.2,691.9 L167,691.9 L167.8,691.9 L168.6,691.9 L169.4,691.9 L170.2,691.9 L171,691.9 L171.8,691.9 L172.6,691.9 L173.4,691.9 L174.2,691.9 L175,691.9 L175.8,691.9 L176.6,691.9 L177.4,691.9 L178.2,691.9 L179,691.9 L179.8,691.9 L180.6,691.9 L181.4,691.9 L182.2,691.9 L183,691.9 L183.8,691.9 L184.6,691.9 L185.4,691.9 L186.2,691.9 L187,691.9 L187.8,691.9 L188.6,691.9 L189.4,691.9 L190.2,691.9 L191,691.9 L191.8,691.9 L192.6,691.9 L193.4,691.9 L194.2,691.9 L195,691.9 L195.8,691.9 L196.6,691.9 L197.4,691.9 L198.2,691.9 L199,691.9 L199.8,691.9 L200.6,691.9 L201.4,691.9 L202.2,691.9 L203,691.9 L203.8,691.9 L204.6,691.9 L205.4,691.9 L206.2,691.9 L207,691.9 L207.8,691.9 L208.6,691.9 L209.4,691.9 L210.2,691.9 L211,691.9 L211.8,691.9 L212.6,691.9 L213.4,691.9 L214.2,691.9 L215,691.9 L215.8,691.9 L216.6,691.9 L217.4,691.9 L218.2,691.9 L219,691.9 L219.8,691.9 L220.6,691.9 L221.4,691.9 L222.2,691.9 L223,691.9 L223.8,691.9 L224.6,691.9 L225.4,691.9 L226.2,691.9 L227,691.9 L227.8,691.9 L228.6,691.9 L229.4,691.9 L230.2,691.9 L231,691.9 L231.8,691.9 L232.6,691.9 L233.4,691.9 L234.2,691.9 L235,691.9 L235.8,691.9 L236.6,691.9 L237.4,691.9 L238.2,691.9 L239,691.9 L239.8,691.9 L240.6,691.9 L241.4,691.9 L242.2,691.9 L243,691.9 L243.8,691.9 L244.6,691.9 L245.4,691.9 L246.2,691.9 L247,691.9 L247.8,691.9 L248.6,691.9 L249.4,691.9 L250.2,691.9 L251,691.9 L251.8,691.9 L252.6,691.9 L253.4,691.9 L254.2,691.9 L255,691.9 L255.8,691.9 L256.6,691.9 L257.4,691.9 L258.2,691.9 L259,691.88 L259.8,691.73 L260.6,690.98 L261.4,688.02 L262.2,679.18 L263,659.43 L263.8,627.32 L264.6,591.87 L265.4,571.25 L265.6,570.3 L266.2,575.51 L266.6,584.27 L267,596.22 L267.8,624.72 L268.6,651.58 L269.4,671.14 L270.2,682.64 L271,688.23 L271.8,690.53 L272.6,691.34 L273.4,691.62 L274.2,691.72 L275,691.77 L275.8,691.8 L276.6,691.82 L277.4,691.84 L278.2,691.86 L279,691.87 L279.8,691.87 L280.6,691.88 L281.4,691.88 L282.2,691.89 L283,691.89 L283.8,691.89 L284.6,691.89 L285.4,691.9 L286.2,691.9 L287,691.9 L287.8,691.9 L288.6,691.9 L289.4,691.9 L290.2,691.9 L291,691.9 L291.8,691.9 L292.6,691.9 L293.4,691.9 L294.2,691.9 L295,691.9 L295.8,691.9 L296.6,691.9 L297.4,691.9 L298.2,691.9 L299,691.9 L299.8,691.9 L300.6,691.9 L301.4,691.9 L302.2,691.9 L303,691.9 L303.8,691.9 L304.6,691.9 L305.4,691.9 L306.2,691.9 L307,691.9 L307.8,691.9 L308.6,691.9 L309.4,691.9 L310.2,691.9 L311,691.9 L311.8,691.9 L312.6,691.9 L313.4,691.9 L314.2,691.9 L315,691.9 L315.8,691.9 L316.6,691.9 L317.4,691.9 L318.2,691.9 L319,691.9 L319.8,691.9 L320.6,691.9 L321.4,691.9 L322.2,691.9 L323,691.9 L323.8,691.9 L324.6,691.9 L325.4,691.9 L326.2,691.9 L327,691.9 L327.8,691.9 L328.6,691.9 L329.4,691.9 L330.2,691.9 L331,691.9 L331.8,691.9 L332.6,691.9 L333.4,691.9 L334.2,691.9 L335,691.9 L335.8,691.9 L336.6,691.9 L337.4,691.9 L338.2,691.9 L339,691.9 L339.8,691.9 L340.6,691.9 L341.4,691.9 L342.2,691.9 L343,691.9 L343.8,691.9 L344.6,691.9 L345.4,691.9 L346.2,691.9 L347,691.9 L347.8,691.9 L348.6,691.9 L349.4,691.9 L350.2,691.9 L351,691.9 L351.8,691.9 L352.6,691.9 L353.4,691.9 L354.2,691.9 L355,691.9 L355.8,691.9 L356.6,691.9 L357.4,691.9 L358.2,691.9 L359,691.9 L359.8,691.9 L360.6,691.9 L361.4,691.9 L362.2,691.9 L363,691.9 L363.8,691.9 L364.6,691.9 L365.4,691.9 L366.2,691.9 L367,691.9 L367.8,691.9 L368.6,691.9 L369.4,691.9 L370.2,691.9 L371,691.9 L371.4,691.9" fill="none" stroke="#e0463e" stroke-width="1.05" stroke-linejoin="round" />
<path d="M76.6,691.7 L77.4,691.7 L78.2,691.7 L79,691.7 L79.8,691.7 L80.6,691.7 L81.4,691.7 L82.2,691.7 L83,691.7 L83.8,691.7 L84.6,691.7 L85.4,691.7 L86.2,691.7 L87,691.7 L87.8,691.7 L88.6,691.7 L89.4,691.7 L90.2,691.7 L91,691.7 L91.8,691.7 L92.6,691.7 L93.4,691.7 L94.2,691.7 L95,691.7 L95.8,691.7 L96.6,691.7 L97.4,691.7 L98.2,691.7 L99,691.7 L99.8,691.7 L100.6,691.7 L101.4,691.7 L102.2,691.7 L103,691.7 L103.8,691.7 L104.6,691.7 L105.4,691.7 L106.2,691.7 L107,691.7 L107.8,691.7 L108.6,691.7 L109.4,691.7 L110.2,691.7 L111,691.7 L111.8,691.7 L112.6,691.7 L113.4,691.7 L114.2,691.7 L115,691.7 L115.8,691.7 L116.6,691.7 L117.4,691.7 L118.2,691.7 L119,691.7 L119.8,691.7 L120.6,691.7 L121.4,691.7 L122.2,691.7 L123,691.7 L123.8,691.7 L124.6,691.7 L125.4,691.7 L126.2,691.7 L127,691.7 L127.8,691.7 L128.6,691.7 L129.4,691.7 L130.2,691.7 L131,691.7 L131.8,691.7 L132.6,691.7 L133.4,691.7 L134.2,691.7 L135,691.7 L135.8,691.7 L136.6,691.7 L137.4,691.7 L138.2,691.7 L139,691.7 L139.8,691.7 L140.6,691.7 L141.4,691.7 L142.2,691.7 L143,691.7 L143.8,691.7 L144.6,691.7 L145.4,691.7 L146.2,691.7 L147,691.7 L147.8,691.7 L148.6,691.7 L149.4,691.7 L150.2,691.7 L151,691.7 L151.8,691.7 L152.6,691.7 L153.4,691.7 L154.2,691.7 L155,691.7 L155.8,691.7 L156.6,691.7 L157.4,691.7 L158.2,691.7 L159,691.7 L159.8,691.7 L160.6,691.7 L161.4,691.7 L162.2,691.7 L163,691.7 L163.8,691.7 L164.6,691.7 L165.4,691.7 L166.2,691.7 L167,691.7 L167.8,691.7 L168.6,691.7 L169.4,691.7 L170.2,691.7 L171,691.7 L171.8,691.7 L172.6,691.7 L173.4,691.7 L174.2,691.7 L175,691.7 L175.8,691.7 L176.6,691.7 L177.4,691.7 L178.2,691.7 L179,691.7 L179.8,691.7 L180.6,691.7 L181.4,691.7 L182.2,691.7 L183,691.7 L183.8,691.7 L184.6,691.7 L185.4,691.7 L186.2,691.7 L187,691.7 L187.8,691.7 L188.6,691.7 L189.4,691.7 L190.2,691.7 L191,691.7 L191.8,691.7 L192.6,691.7 L193.4,691.7 L194.2,691.7 L195,691.7 L195.8,691.7 L196.6,691.7 L197.4,691.7 L198.2,691.7 L199,691.7 L199.8,691.7 L200.6,691.7 L201.4,691.7 L202.2,691.7 L203,691.7 L203.8,691.7 L204.6,691.7 L205.4,691.7 L206.2,691.7 L207,691.7 L207.8,691.7 L208.6,691.7 L209.4,691.7 L210.2,691.7 L211,691.7 L211.8,691.7 L212.6,691.7 L213.4,691.7 L214.2,691.7 L215,691.7 L215.8,691.7 L216.6,691.7 L217.4,691.7 L218.2,691.7 L219,691.7 L219.8,691.7 L220.6,691.7 L221.4,691.7 L222.2,691.7 L223,691.7 L223.8,691.7 L224.6,691.7 L225.4,691.7 L226.2,691.7 L227,691.7 L227.8,691.7 L228.6,691.7 L229.4,691.7 L230.2,691.7 L231,691.7 L231.8,691.7 L232.6,691.7 L233.4,691.7 L234.2,691.7 L235,691.7 L235.8,691.7 L236.6,691.7 L237.4,691.7 L238.2,691.7 L239,691.7 L239.8,691.7 L240.6,691.7 L241.4,691.7 L242.2,691.7 L243,691.7 L243.8,691.7 L244.6,691.7 L245.4,691.7 L246.2,691.7 L247,691.7 L247.8,691.7 L248.6,691.7 L249.4,691.7 L250.2,691.7 L251,691.69 L251.8,691.68 L252.6,691.65 L253.4,691.6 L254.2,691.51 L255,691.37 L255.8,691.17 L256.6,690.94 L257.4,690.72 L258.2,690.56 L259,690.49 L259.8,690.49 L260.6,690.32 L261.4,689.02 L262.2,683.93 L263,669.44 L263.8,638.34 L264.6,588.29 L265.4,530.77 L265.6,518.05 L266.2,490.92 L266.6,485.29 L267,488.59 L267.8,513.28 L268.6,554.19 L269.4,598.75 L270.2,636.54 L271,662.89 L271.8,678.37 L272.6,686.15 L273.4,689.55 L274.2,690.85 L275,691.32 L275.8,691.48 L276.6,691.55 L277.4,691.59 L278.2,691.62 L279,691.64 L279.8,691.65 L280.6,691.66 L281.4,691.67 L282.2,691.68 L283,691.68 L283.8,691.69 L284.6,691.69 L285.4,691.69 L286.2,691.69 L287,691.7 L287.8,691.7 L288.6,691.7 L289.4,691.7 L290.2,691.7 L291,691.7 L291.8,691.7 L292.6,691.7 L293.4,691.7 L294.2,691.7 L295,691.7 L295.8,691.7 L296.6,691.7 L297.4,691.7 L298.2,691.7 L299,691.7 L299.8,691.7 L300.6,691.7 L301.4,691.7 L302.2,691.7 L303,691.7 L303.8,691.7 L304.6,691.7 L305.4,691.7 L306.2,691.7 L307,691.7 L307.8,691.7 L308.6,691.7 L309.4,691.7 L310.2,691.7 L311,691.7 L311.8,691.7 L312.6,691.7 L313.4,691.7 L314.2,691.7 L315,691.7 L315.8,691.7 L316.6,691.7 L317.4,691.7 L318.2,691.7 L319,691.7 L319.8,691.7 L320.6,691.7 L321.4,691.7 L322.2,691.7 L323,691.7 L323.8,691.7 L324.6,691.7 L325.4,691.7 L326.2,691.7 L327,691.7 L327.8,691.7 L328.6,691.7 L329.4,691.7 L330.2,691.7 L331,691.7 L331.8,691.7 L332.6,691.7 L333.4,691.7 L334.2,691.7 L335,691.7 L335.8,691.7 L336.6,691.7 L337.4,691.7 L338.2,691.7 L339,691.7 L339.8,691.7 L340.6,691.7 L341.4,691.7 L342.2,691.7 L343,691.7 L343.8,691.7 L344.6,691.7 L345.4,691.7 L346.2,691.7 L347,691.7 L347.8,691.7 L348.6,691.7 L349.4,691.7 L350.2,691.7 L351,691.7 L351.8,691.7 L352.6,691.7 L353.4,691.7 L354.2,691.7 L355,691.7 L355.8,691.7 L356.6,691.7 L357.4,691.7 L358.2,691.7 L359,691.7 L359.8,691.7 L360.6,691.7 L361.4,691.7 L362.2,691.7 L363,691.7 L363.8,691.7 L364.6,691.7 L365.4,691.7 L366.2,691.7 L367,691.7 L367.8,691.7 L368.6,691.7 L369.4,691.7 L370.2,691.7 L371,691.7 L371.4,691.7" fill="none" stroke="#4658b6" stroke-width="1.05" stroke-linejoin="round" />
<text x="267.9" y="482" font-size="9.7" text-anchor="middle" font-weight="normal" fill="#1c1c1c" >1.48</text>
<text x="121.4" y="503.2" font-size="13" text-anchor="start" font-weight="normal" fill="#1c1c1c" >tHcy</text>
<text x="121.4" y="518.05" font-size="13" text-anchor="start" font-weight="normal" fill="#1c1c1c" >M/Z 136.1/90.1</text>
<text x="121.4" y="532.9" font-size="13" text-anchor="start" font-weight="normal" fill="#1c1c1c" >Intensity 1.5e5</text>
<text x="120.9" y="596.8" font-size="13" fill="#1c1c1c">D<tspan font-size="9.2" dy="3">4</tspan><tspan dy="-3">-Hcy</tspan></text>
<text x="120.9" y="611.7" font-size="13" text-anchor="start" font-weight="normal" fill="#1c1c1c" >M/Z 140.1/94.1</text>
<text x="120.9" y="627.2" font-size="13" text-anchor="start" font-weight="normal" fill="#1c1c1c" >Intensity 9.5e4</text>
<path d="M218,513.5 L259.96,540.56 M242.1,540.4 L259.96,540.56 L252.7,525.9" fill="none" stroke="#4a7fc3" stroke-width="2.4" stroke-linecap="round" stroke-linejoin="miter"/>
<path d="M218,601.9 L246.24,643.87 M230.4,636.5 L246.24,643.87 L245.2,626.5" fill="none" stroke="#c0403e" stroke-width="2.4" stroke-linecap="round" stroke-linejoin="miter"/>
<rect x="438.4" y="469.6" width="3" height="3" fill="#2c3da0" stroke="#1b2470" stroke-width="0.4"/>
<text x="451.7" y="473.2" font-size="6.39" text-anchor="start" font-weight="normal" fill="#1c1c1c" >XIC of -MRM (3 pairs): Period 2, 117.1/73.0 amu from Sample 29 (mma) of 08182011 real.wiff (Turbo Spray)</text>
<text x="728.3" y="492.3" font-size="6.3" text-anchor="start" font-weight="normal" fill="#1c1c1c" >Max. 1.4e5 cps.</text>
<line x1="454.9" y1="692" x2="457.9" y2="692" stroke="#333" stroke-width="0.9" />
<line x1="456.1" y1="686.59" x2="457.9" y2="686.59" stroke="#333" stroke-width="0.9" />
<text x="452" y="694.5" font-size="9.3" text-anchor="end" font-weight="normal" fill="#1c1c1c" >0.0</text>
<line x1="454.9" y1="681.18" x2="457.9" y2="681.18" stroke="#333" stroke-width="0.9" />
<line x1="456.1" y1="675.77" x2="457.9" y2="675.77" stroke="#333" stroke-width="0.9" />
<text x="452" y="683.68" font-size="9.3" text-anchor="end" font-weight="normal" fill="#1c1c1c" >1.0e4</text>
<line x1="454.9" y1="670.36" x2="457.9" y2="670.36" stroke="#333" stroke-width="0.9" />
<line x1="456.1" y1="664.95" x2="457.9" y2="664.95" stroke="#333" stroke-width="0.9" />
<text x="452" y="672.86" font-size="9.3" text-anchor="end" font-weight="normal" fill="#1c1c1c" >2.0e4</text>
<line x1="454.9" y1="659.54" x2="457.9" y2="659.54" stroke="#333" stroke-width="0.9" />
<line x1="456.1" y1="654.13" x2="457.9" y2="654.13" stroke="#333" stroke-width="0.9" />
<text x="452" y="662.04" font-size="9.3" text-anchor="end" font-weight="normal" fill="#1c1c1c" >3.0e4</text>
<line x1="454.9" y1="648.72" x2="457.9" y2="648.72" stroke="#333" stroke-width="0.9" />
<line x1="456.1" y1="643.31" x2="457.9" y2="643.31" stroke="#333" stroke-width="0.9" />
<text x="452" y="651.22" font-size="9.3" text-anchor="end" font-weight="normal" fill="#1c1c1c" >4.0e4</text>
<line x1="454.9" y1="637.9" x2="457.9" y2="637.9" stroke="#333" stroke-width="0.9" />
<line x1="456.1" y1="632.49" x2="457.9" y2="632.49" stroke="#333" stroke-width="0.9" />
<text x="452" y="640.4" font-size="9.3" text-anchor="end" font-weight="normal" fill="#1c1c1c" >5.0e4</text>
<line x1="454.9" y1="627.08" x2="457.9" y2="627.08" stroke="#333" stroke-width="0.9" />
<line x1="456.1" y1="621.67" x2="457.9" y2="621.67" stroke="#333" stroke-width="0.9" />
<text x="452" y="629.58" font-size="9.3" text-anchor="end" font-weight="normal" fill="#1c1c1c" >6.0e4</text>
<line x1="454.9" y1="616.26" x2="457.9" y2="616.26" stroke="#333" stroke-width="0.9" />
<line x1="456.1" y1="610.85" x2="457.9" y2="610.85" stroke="#333" stroke-width="0.9" />
<text x="452" y="618.76" font-size="9.3" text-anchor="end" font-weight="normal" fill="#1c1c1c" >7.0e4</text>
<line x1="454.9" y1="605.44" x2="457.9" y2="605.44" stroke="#333" stroke-width="0.9" />
<line x1="456.1" y1="600.03" x2="457.9" y2="600.03" stroke="#333" stroke-width="0.9" />
<text x="452" y="607.94" font-size="9.3" text-anchor="end" font-weight="normal" fill="#1c1c1c" >8.0e4</text>
<line x1="454.9" y1="594.62" x2="457.9" y2="594.62" stroke="#333" stroke-width="0.9" />
<line x1="456.1" y1="589.21" x2="457.9" y2="589.21" stroke="#333" stroke-width="0.9" />
<text x="452" y="597.12" font-size="9.3" text-anchor="end" font-weight="normal" fill="#1c1c1c" >9.0e4</text>
<line x1="454.9" y1="583.8" x2="457.9" y2="583.8" stroke="#333" stroke-width="0.9" />
<line x1="456.1" y1="578.39" x2="457.9" y2="578.39" stroke="#333" stroke-width="0.9" />
<text x="452" y="586.3" font-size="9.3" text-anchor="end" font-weight="normal" fill="#1c1c1c" >1.0e5</text>
<line x1="454.9" y1="572.98" x2="457.9" y2="572.98" stroke="#333" stroke-width="0.9" />
<line x1="456.1" y1="567.57" x2="457.9" y2="567.57" stroke="#333" stroke-width="0.9" />
<text x="452" y="575.48" font-size="9.3" text-anchor="end" font-weight="normal" fill="#1c1c1c" >1.1e5</text>
<line x1="454.9" y1="562.16" x2="457.9" y2="562.16" stroke="#333" stroke-width="0.9" />
<line x1="456.1" y1="556.75" x2="457.9" y2="556.75" stroke="#333" stroke-width="0.9" />
<text x="452" y="564.66" font-size="9.3" text-anchor="end" font-weight="normal" fill="#1c1c1c" >1.2e5</text>
<line x1="454.9" y1="551.34" x2="457.9" y2="551.34" stroke="#333" stroke-width="0.9" />
<line x1="456.1" y1="545.93" x2="457.9" y2="545.93" stroke="#333" stroke-width="0.9" />
<text x="452" y="553.84" font-size="9.3" text-anchor="end" font-weight="normal" fill="#1c1c1c" >1.3e5</text>
<line x1="454.9" y1="540.52" x2="457.9" y2="540.52" stroke="#333" stroke-width="0.9" />
<line x1="456.1" y1="535.11" x2="457.9" y2="535.11" stroke="#333" stroke-width="0.9" />
<text x="452" y="543.02" font-size="9.3" text-anchor="end" font-weight="normal" fill="#1c1c1c" >1.4e5</text>
<line x1="454.9" y1="529.7" x2="457.9" y2="529.7" stroke="#333" stroke-width="0.9" />
<line x1="456.1" y1="524.29" x2="457.9" y2="524.29" stroke="#333" stroke-width="0.9" />
<text x="452" y="532.2" font-size="9.3" text-anchor="end" font-weight="normal" fill="#1c1c1c" >1.5e5</text>
<line x1="454.9" y1="518.88" x2="457.9" y2="518.88" stroke="#333" stroke-width="0.9" />
<line x1="456.1" y1="513.47" x2="457.9" y2="513.47" stroke="#333" stroke-width="0.9" />
<text x="452" y="521.38" font-size="9.3" text-anchor="end" font-weight="normal" fill="#1c1c1c" >1.6e5</text>
<line x1="454.9" y1="508.06" x2="457.9" y2="508.06" stroke="#333" stroke-width="0.9" />
<line x1="456.1" y1="502.65" x2="457.9" y2="502.65" stroke="#333" stroke-width="0.9" />
<text x="452" y="510.56" font-size="9.3" text-anchor="end" font-weight="normal" fill="#1c1c1c" >1.7e5</text>
<line x1="454.9" y1="497.24" x2="457.9" y2="497.24" stroke="#333" stroke-width="0.9" />
<line x1="456.1" y1="491.83" x2="457.9" y2="491.83" stroke="#333" stroke-width="0.9" />
<text x="452" y="499.74" font-size="9.3" text-anchor="end" font-weight="normal" fill="#1c1c1c" >1.8e5</text>
<line x1="454.9" y1="486.42" x2="457.9" y2="486.42" stroke="#333" stroke-width="0.9" />
<text x="452" y="488.92" font-size="9.3" text-anchor="end" font-weight="normal" fill="#1c1c1c" >1.9e5</text>
<line x1="457.9" y1="485.3" x2="457.9" y2="692.4" stroke="#333" stroke-width="1.2" />
<line x1="457.9" y1="692" x2="780.3" y2="692" stroke="#333" stroke-width="1.2" />
<line x1="465.18" y1="692" x2="465.18" y2="695" stroke="#333" stroke-width="0.9" />
<line x1="473.95" y1="692" x2="473.95" y2="694" stroke="#333" stroke-width="0.9" />
<line x1="482.72" y1="692" x2="482.72" y2="695" stroke="#333" stroke-width="0.9" />
<line x1="491.49" y1="692" x2="491.49" y2="694" stroke="#333" stroke-width="0.9" />
<line x1="500.26" y1="692" x2="500.26" y2="695" stroke="#333" stroke-width="0.9" />
<line x1="509.03" y1="692" x2="509.03" y2="694" stroke="#333" stroke-width="0.9" />
<line x1="517.8" y1="692" x2="517.8" y2="695" stroke="#333" stroke-width="0.9" />
<line x1="526.57" y1="692" x2="526.57" y2="694" stroke="#333" stroke-width="0.9" />
<line x1="535.34" y1="692" x2="535.34" y2="695" stroke="#333" stroke-width="0.9" />
<line x1="544.11" y1="692" x2="544.11" y2="694" stroke="#333" stroke-width="0.9" />
<line x1="552.88" y1="692" x2="552.88" y2="695" stroke="#333" stroke-width="0.9" />
<line x1="561.65" y1="692" x2="561.65" y2="694" stroke="#333" stroke-width="0.9" />
<line x1="570.42" y1="692" x2="570.42" y2="695" stroke="#333" stroke-width="0.9" />
<line x1="579.19" y1="692" x2="579.19" y2="694" stroke="#333" stroke-width="0.9" />
<line x1="587.96" y1="692" x2="587.96" y2="695" stroke="#333" stroke-width="0.9" />
<line x1="596.73" y1="692" x2="596.73" y2="694" stroke="#333" stroke-width="0.9" />
<line x1="605.5" y1="692" x2="605.5" y2="695" stroke="#333" stroke-width="0.9" />
<line x1="614.27" y1="692" x2="614.27" y2="694" stroke="#333" stroke-width="0.9" />
<line x1="623.04" y1="692" x2="623.04" y2="695" stroke="#333" stroke-width="0.9" />
<line x1="631.81" y1="692" x2="631.81" y2="694" stroke="#333" stroke-width="0.9" />
<line x1="640.58" y1="692" x2="640.58" y2="695" stroke="#333" stroke-width="0.9" />
<line x1="649.35" y1="692" x2="649.35" y2="694" stroke="#333" stroke-width="0.9" />
<line x1="658.12" y1="692" x2="658.12" y2="695" stroke="#333" stroke-width="0.9" />
<line x1="666.89" y1="692" x2="666.89" y2="694" stroke="#333" stroke-width="0.9" />
<line x1="675.66" y1="692" x2="675.66" y2="695" stroke="#333" stroke-width="0.9" />
<line x1="684.43" y1="692" x2="684.43" y2="694" stroke="#333" stroke-width="0.9" />
<line x1="693.2" y1="692" x2="693.2" y2="695" stroke="#333" stroke-width="0.9" />
<line x1="701.97" y1="692" x2="701.97" y2="694" stroke="#333" stroke-width="0.9" />
<line x1="710.74" y1="692" x2="710.74" y2="695" stroke="#333" stroke-width="0.9" />
<line x1="719.51" y1="692" x2="719.51" y2="694" stroke="#333" stroke-width="0.9" />
<line x1="728.28" y1="692" x2="728.28" y2="695" stroke="#333" stroke-width="0.9" />
<line x1="737.05" y1="692" x2="737.05" y2="694" stroke="#333" stroke-width="0.9" />
<line x1="745.82" y1="692" x2="745.82" y2="695" stroke="#333" stroke-width="0.9" />
<line x1="754.59" y1="692" x2="754.59" y2="694" stroke="#333" stroke-width="0.9" />
<line x1="763.36" y1="692" x2="763.36" y2="695" stroke="#333" stroke-width="0.9" />
<line x1="772.13" y1="692" x2="772.13" y2="694" stroke="#333" stroke-width="0.9" />
<text x="465.18" y="705.3" font-size="9.3" text-anchor="middle" font-weight="normal" fill="#1c1c1c" >2.4</text>
<text x="482.72" y="705.3" font-size="9.3" text-anchor="middle" font-weight="normal" fill="#1c1c1c" >2.6</text>
<text x="500.26" y="705.3" font-size="9.3" text-anchor="middle" font-weight="normal" fill="#1c1c1c" >2.8</text>
<text x="517.8" y="705.3" font-size="9.3" text-anchor="middle" font-weight="normal" fill="#1c1c1c" >3.0</text>
<text x="535.34" y="705.3" font-size="9.3" text-anchor="middle" font-weight="normal" fill="#1c1c1c" >3.2</text>
<text x="552.88" y="705.3" font-size="9.3" text-anchor="middle" font-weight="normal" fill="#1c1c1c" >3.4</text>
<text x="570.42" y="705.3" font-size="9.3" text-anchor="middle" font-weight="normal" fill="#1c1c1c" >3.6</text>
<text x="587.96" y="705.3" font-size="9.3" text-anchor="middle" font-weight="normal" fill="#1c1c1c" >3.8</text>
<text x="605.5" y="705.3" font-size="9.3" text-anchor="middle" font-weight="normal" fill="#1c1c1c" >4.0</text>
<text x="623.04" y="705.3" font-size="9.3" text-anchor="middle" font-weight="normal" fill="#1c1c1c" >4.2</text>
<text x="640.58" y="705.3" font-size="9.3" text-anchor="middle" font-weight="normal" fill="#1c1c1c" >4.4</text>
<text x="658.12" y="705.3" font-size="9.3" text-anchor="middle" font-weight="normal" fill="#1c1c1c" >4.6</text>
<text x="675.66" y="705.3" font-size="9.3" text-anchor="middle" font-weight="normal" fill="#1c1c1c" >4.8</text>
<text x="693.2" y="705.3" font-size="9.3" text-anchor="middle" font-weight="normal" fill="#1c1c1c" >5.0</text>
<text x="710.74" y="705.3" font-size="9.3" text-anchor="middle" font-weight="normal" fill="#1c1c1c" >5.2</text>
<text x="728.28" y="705.3" font-size="9.3" text-anchor="middle" font-weight="normal" fill="#1c1c1c" >5.4</text>
<text x="745.82" y="705.3" font-size="9.3" text-anchor="middle" font-weight="normal" fill="#1c1c1c" >5.6</text>
<text x="763.36" y="705.3" font-size="9.3" text-anchor="middle" font-weight="normal" fill="#1c1c1c" >5.8</text>
<text x="619.3" y="722.5" font-size="9.3" text-anchor="middle" font-weight="normal" fill="#1c1c1c" >Time, min</text>
<text x="0" y="0" font-size="10.7" text-anchor="middle" font-weight="normal" fill="#1c1c1c" transform="translate(415.2,587.2) rotate(-90)">Intensity, cps</text>
<text x="619.1" y="743.7" font-size="15.5" text-anchor="middle" font-weight="bold" fill="#111" >D2</text>
<rect x="456.5" y="682.3" width="1.9" height="4.1" fill="#111"/>
<path d="M457.9,692 L458.7,692 L459.5,692 L460.3,692 L461.1,692 L461.9,692 L462.7,692 L463.5,692 L464.3,692 L465.1,692 L465.9,692 L466.7,692 L467.5,692 L468.3,692 L469.1,692 L469.9,692 L470.7,692 L471.5,692 L472.3,692 L473.1,692 L473.9,692 L474.7,692 L475.5,692 L476.3,692 L477.1,692 L477.9,692 L478.7,692 L479.5,692 L480.2,692 L480.3,692 L481.1,692 L481.9,692 L482.7,692 L483.5,692 L484.3,692 L485.1,692 L485.9,692 L486.7,692 L487.5,692 L488.3,692 L489.1,692 L489.9,692 L490.7,692 L491.5,692 L492.3,692 L493.1,692 L493.9,692 L494.7,692 L495.5,692 L496.3,692 L497.1,692 L497.9,692 L498.7,692 L499.5,692 L500.3,692 L501.1,692 L501.9,692 L502.7,692 L503.5,692 L504.3,692 L505.1,692 L505.9,692 L506.7,692 L507.5,692 L508.3,692 L509.1,692 L509.9,692 L510.7,692 L511.5,692 L512.3,692 L513.1,691.99 L513.9,691.95 L514.7,691.77 L515.5,690.99 L516.3,688.36 L517.1,680.97 L517.9,664.03 L518.7,632.57 L519.5,586.27 L520.3,534.44 L521.1,495.35 L521.7,485.3 L521.9,486.1 L522.7,504.44 L523.5,541.24 L524.3,585.09 L524.8,611.06 L525.1,625.08 L525.9,654.95 L526.7,673.79 L527.5,683.98 L528.3,688.76 L529.1,690.74 L529.9,691.47 L530.7,691.73 L531.5,691.83 L532.3,691.88 L533.1,691.91 L533.9,691.93 L534.7,691.95 L535.5,691.96 L536.3,691.97 L537.1,691.98 L537.9,691.98 L538.7,691.99 L539.5,691.99 L540.3,691.99 L541.1,691.99 L541.9,692 L542.7,692 L543.5,692 L544.3,692 L545.1,692 L545.9,692 L546.7,692 L547.5,692 L548.3,692 L549.1,692 L549.9,692 L550.7,692 L551.5,692 L552.3,692 L553.1,692 L553.9,692 L554.7,692 L555.5,692 L556.3,692 L557.1,692 L557.9,692 L558.7,692 L559.5,692 L560.3,692 L561.1,692 L561.9,692 L562.7,692 L563.5,692 L564.3,692 L565.1,692 L565.9,692 L566.7,692 L567.5,692 L568.3,692 L569.1,692 L569.9,692 L570.7,692 L571.5,692 L572.3,692 L573.1,692 L573.9,692 L574.7,692 L575.5,692 L576.3,692 L577.1,692 L577.9,692 L578.7,692 L579.5,692 L580.3,692 L581.1,692 L581.9,692 L582.7,692 L583.5,692 L584.3,692 L585.1,692 L585.9,692 L586.7,692 L587.5,692 L588.3,692 L589.1,692 L589.9,692 L590.7,692 L591.5,692 L592.3,692 L593.1,692 L593.9,692 L594.7,692 L595.5,692 L596.3,692 L597.1,692 L597.9,692 L598.7,692 L599.5,692 L600.3,692 L601.1,692 L601.9,692 L602.7,692 L603.5,692 L604.3,692 L605.1,692 L605.9,692 L606.7,692 L607.5,692 L608.3,692 L609.1,692 L609.9,692 L610.7,692 L611.5,692 L612.3,692 L613.1,692 L613.9,692 L614.7,692 L615.5,692 L616.3,692 L617.1,692 L617.9,692 L618.7,692 L619.5,692 L620.3,692 L621.1,692 L621.9,692 L622.7,692 L623.5,692 L624.3,692 L625.1,692 L625.9,692 L626.7,692 L627.5,692 L628.3,692 L629.1,692 L629.9,692 L630.7,692 L631.5,692 L632.3,692 L633.1,692 L633.9,692 L634.7,692 L635.5,692 L636.3,692 L637.1,692 L637.9,692 L638.7,692 L639.5,692 L640.3,692 L641.1,692 L641.9,692 L642.7,692 L643.5,692 L644.3,692 L645.1,692 L645.9,692 L646.7,692 L647.5,692 L648.3,692 L649.1,692 L649.9,692 L650.7,692 L651.5,692 L652.3,692 L653.1,692 L653.9,692 L654.7,692 L655.5,692 L656.3,692 L657.1,692 L657.9,692 L658.7,692 L659.5,692 L660.3,692 L661.1,692 L661.9,692 L662.7,692 L663.5,692 L664.3,692 L665.1,692 L665.9,692 L666.7,692 L667.5,692 L668.3,692 L669.1,692 L669.9,692 L670.7,692 L671.5,692 L672.3,692 L673.1,692 L673.9,692 L674.7,692 L675.5,692 L676.3,692 L677.1,692 L677.9,692 L678.7,692 L679.5,692 L680.3,692 L681.1,692 L681.9,692 L682.7,692 L683.5,692 L684.3,692 L685.1,692 L685.9,692 L686.7,692 L687.5,692 L688.3,692 L689.1,692 L689.9,692 L690.7,692 L691.5,692 L692.3,692 L693.1,692 L693.9,692 L694.7,692 L695.5,692 L696.3,692 L697.1,692 L697.9,692 L698.7,692 L699.5,692 L700.3,692 L701.1,692 L701.9,692 L702.7,692 L703.5,692 L704.3,692 L705.1,692 L705.9,692 L706.7,692 L707.5,692 L708.3,692 L709.1,692 L709.9,692 L710.7,692 L711.5,692 L712.3,692 L713.1,692 L713.9,692 L714.7,692 L715.5,692 L716.3,692 L717.1,692 L717.9,692 L718.7,692 L719.5,692 L720.3,692 L721.1,692 L721.9,692 L722.7,692 L723.5,692 L724.3,692 L725.1,692 L725.9,692 L726.7,692 L727.5,692 L728.3,692 L729.1,692 L729.9,692 L730.7,692 L731.5,692 L732.3,692 L733.1,692 L733.9,692 L734.7,692 L735.5,692 L736.3,692 L737.1,692 L737.9,692 L738.7,692 L739.5,692 L740.3,692 L741.1,692 L741.9,692 L742.7,692 L743.5,692 L744.3,692 L745.1,692 L745.9,692 L746.7,692 L747.5,692 L748.3,692 L749.1,692 L749.9,692 L750.7,692 L751.5,692 L752.3,692 L753.1,692 L753.9,692 L754.7,692 L755.5,692 L756.3,692 L757.1,692 L757.9,692 L758.7,692 L759.5,692 L760.3,692 L761.1,692 L761.9,692 L762.7,692 L763.5,692 L764.3,692 L765.1,692 L765.9,692 L766.7,692 L767.5,692 L768.3,692 L769.1,692 L769.9,692 L770.7,692 L771.5,692 L772.3,692 L773.1,692 L773.9,692 L774.7,692 L775.3,692 L775.5,692 L776.3,692 L777.1,692 L777.9,692 L778.7,692 L779.5,692 L779.6,692" fill="none" stroke="#e24a3f" stroke-width="1.1" stroke-linejoin="round" />
<path d="M457.9,690.62 L458.7,690.66 L459.5,690.69 L460.3,690.71 L461.1,690.73 L461.9,690.78 L462.7,690.83 L463.5,690.82 L464.3,690.77 L465.1,690.73 L465.9,690.79 L466.7,690.84 L467.5,690.71 L468.3,690.47 L469.1,690.27 L469.9,690.4 L470.7,690.57 L471.5,691.01 L472.3,691.46 L473.1,691.88 L473.9,692.11 L474.7,691.68 L475.5,690.8 L476.3,687.48 L477.1,676.43 L477.9,649.44 L478.7,605.11 L479.5,560.55 L480.2,544.45 L480.3,544.73 L481.1,566.29 L481.9,608.32 L482.7,647.65 L483.5,671.98 L484.3,682.86 L485.1,686.63 L485.9,687.76 L486.7,688.17 L487.5,688.3 L488.3,688.31 L489.1,688.39 L489.9,688.61 L490.7,688.81 L491.5,688.96 L492.3,689.07 L493.1,689.19 L493.9,689.44 L494.7,689.68 L495.5,689.78 L496.3,689.78 L497.1,689.77 L497.9,689.64 L498.7,689.5 L499.5,689.58 L500.3,689.8 L501.1,689.96 L501.9,689.79 L502.7,689.62 L503.5,689.66 L504.3,689.8 L505.1,689.92 L505.9,689.79 L506.7,689.67 L507.5,689.61 L508.3,689.59 L509.1,689.6 L509.9,689.86 L510.7,690.11 L511.5,690.1 L512.3,689.93 L513.1,689.78 L513.9,689.79 L514.7,689.8 L515.5,689.93 L516.3,690.15 L517.1,690.32 L517.9,690.2 L518.7,689.76 L519.5,688.11 L520.3,683.19 L521.1,671.24 L521.7,655.1 L521.9,648.06 L522.7,612.45 L523.5,571.91 L524.3,542.36 L524.8,536.46 L525.1,538.28 L525.9,559.66 L526.7,595.86 L527.5,632.6 L528.3,660.13 L529.1,676.38 L529.9,684.4 L530.7,687.73 L531.5,688.84 L532.3,689.15 L533.1,689.27 L533.9,689.45 L534.7,689.6 L535.5,689.68 L536.3,689.71 L537.1,689.71 L537.9,689.58 L538.7,689.44 L539.5,689.41 L540.3,689.45 L541.1,689.47 L541.9,689.43 L542.7,689.38 L543.5,689.37 L544.3,689.37 L545.1,689.37 L545.9,689.36 L546.7,689.34 L547.5,689.38 L548.3,689.45 L549.1,689.52 L549.9,689.61 L550.7,689.7 L551.5,689.63 L552.3,689.47 L553.1,689.35 L553.9,689.54 L554.7,689.73 L555.5,689.75 L556.3,689.66 L557.1,689.58 L557.9,689.57 L558.7,689.57 L559.5,689.66 L560.3,689.8 L561.1,689.92 L561.9,689.83 L562.7,689.74 L563.5,689.68 L564.3,689.63 L565.1,689.6 L565.9,689.65 L566.7,689.7 L567.5,689.76 L568.3,689.83 L569.1,689.86 L569.9,689.69 L570.7,689.51 L571.5,689.6 L572.3,689.86 L573.1,690.06 L573.9,689.8 L574.7,689.53 L575.5,689.56 L576.3,689.77 L577.1,689.96 L577.9,689.99 L578.7,690.02 L579.5,689.88 L580.3,689.66 L581.1,689.48 L581.9,689.7 L582.7,689.53 L583.5,688.48 L584.3,687.31 L585.1,686.75 L585.9,686.72 L586.7,686.69 L587.5,686.51 L588.3,686.29 L589.1,686.15 L589.9,686.15 L590.7,686.16 L591.5,686.18 L592.3,686.21 L593.1,686.26 L593.9,686.47 L594.7,686.68 L595.5,686.62 L596.3,686.4 L597.1,686.23 L597.9,686.38 L598.7,686.53 L599.5,686.61 L600.3,686.66 L601.1,686.71 L601.9,686.72 L602.7,686.73 L603.5,686.63 L604.3,686.47 L605.1,686.33 L605.9,686.34 L606.7,686.35 L607.5,686.39 L608.3,686.45 L609.1,686.5 L609.9,686.58 L610.7,686.66 L611.5,686.57 L612.3,686.39 L613.1,686.26 L613.9,686.45 L614.7,686.63 L615.5,686.71 L616.3,686.73 L617.1,686.76 L617.9,686.78 L618.7,686.8 L619.5,686.67 L620.3,686.45 L621.1,686.29 L621.9,686.55 L622.7,686.81 L623.5,686.76 L624.3,686.56 L625.1,686.4 L625.9,686.52 L626.7,686.63 L627.5,686.75 L628.3,686.87 L629.1,686.99 L629.9,687.12 L630.7,687.25 L631.5,687.23 L632.3,687.11 L633.1,687.03 L633.9,687.24 L634.7,687.44 L635.5,687.48 L636.3,687.42 L637.1,687.36 L637.9,687.34 L638.7,687.32 L639.5,687.34 L640.3,687.4 L641.1,687.49 L641.9,687.54 L642.7,687.59 L643.5,687.64 L644.3,687.7 L645.1,687.77 L645.9,687.88 L646.7,687.98 L647.5,688.17 L648.3,688.41 L649.1,688.64 L649.9,688.82 L650.7,688.98 L651.5,688.94 L652.3,688.77 L653.1,688.64 L653.9,688.68 L654.7,688.72 L655.5,688.94 L656.3,689.28 L657.1,689.56 L657.9,689.51 L658.7,689.45 L659.5,689.46 L660.3,689.47 L661.1,689.46 L661.9,689.43 L662.7,689.4 L663.5,689.47 L664.3,689.59 L665.1,689.7 L665.9,689.79 L666.7,689.87 L667.5,689.85 L668.3,689.77 L669.1,689.7 L669.9,689.71 L670.7,689.72 L671.5,689.67 L672.3,689.59 L673.1,689.55 L673.9,689.81 L674.7,690.07 L675.5,690.02 L676.3,689.8 L677.1,689.62 L677.9,689.77 L678.7,689.91 L679.5,690.04 L680.3,690.15 L681.1,690.21 L681.9,690.01 L682.7,689.82 L683.5,689.85 L684.3,690.01 L685.1,690.17 L685.9,690.23 L686.7,690.29 L687.5,690.26 L688.3,690.17 L689.1,690.1 L689.9,690.14 L690.7,690.19 L691.5,690.08 L692.3,689.89 L693.1,689.74 L693.9,689.83 L694.7,689.92 L695.5,689.9 L696.3,689.82 L697.1,689.78 L697.9,689.97 L698.7,690.17 L699.5,690.15 L700.3,689.99 L701.1,689.86 L701.9,689.91 L702.7,689.95 L703.5,690.06 L704.3,690.22 L705.1,690.34 L705.9,690.3 L706.7,690.26 L707.5,690.27 L708.3,690.3 L709.1,690.31 L709.9,690.17 L710.7,690.02 L711.5,689.97 L712.3,689.98 L713.1,690 L713.9,690.07 L714.7,690.14 L715.5,690.12 L716.3,690.05 L717.1,689.98 L717.9,689.93 L718.7,689.87 L719.5,689.87 L720.3,689.91 L721.1,689.92 L721.9,689.85 L722.7,689.78 L723.5,689.79 L724.3,689.86 L725.1,689.94 L725.9,690.11 L726.7,690.28 L727.5,690.34 L728.3,690.33 L729.1,690.31 L729.9,690.22 L730.7,690.12 L731.5,690.07 L732.3,690.03 L733.1,689.99 L733.9,689.95 L734.7,689.9 L735.5,689.84 L736.3,689.77 L737.1,689.72 L737.9,689.77 L738.7,689.82 L739.5,689.93 L740.3,690.07 L741.1,690.2 L741.9,690.22 L742.7,690.25 L743.5,690.17 L744.3,690.03 L745.1,689.92 L745.9,690.04 L746.7,690.16 L747.5,690.2 L748.3,690.2 L749.1,690.19 L749.9,690.17 L750.7,690.14 L751.5,690.13 L752.3,690.12 L753.1,690.12 L753.9,690.14 L754.7,690.17 L755.5,690.11 L756.3,690 L757.1,689.92 L757.9,690.01 L758.7,690.11 L759.5,690.07 L760.3,689.95 L761.1,689.85 L761.9,689.91 L762.7,689.97 L763.5,690.04 L764.3,690.12 L765.1,690.19 L765.9,690.16 L766.7,690.14 L767.5,690.06 L768.3,689.95 L769.1,689.88 L769.9,690.06 L770.7,690.24 L771.5,690.26 L772.3,690.18 L773.1,690.1 L773.9,690.08 L774.7,690.06 L775.3,690 L775.5,688.73 L776.3,684.58 L777.1,680.81 L777.9,677.49 L778.7,674.27 L779.5,670.98 L779.6,670.56" fill="none" stroke="#4658b6" stroke-width="1.05" stroke-linejoin="round" />
<text x="480.4" y="541.7" font-size="9.7" text-anchor="middle" font-weight="normal" fill="#1c1c1c" >2.57</text>
<text x="524.9" y="528.9" font-size="9.7" text-anchor="middle" font-weight="normal" fill="#1c1c1c" >3.08</text>
<text x="587.7" y="683.1" font-size="9.7" text-anchor="middle" font-weight="normal" fill="#1c1c1c" >3.80</text>
<text x="608.0" y="502.6" font-size="12.75" fill="#1c1c1c">D<tspan font-size="9.2" dy="3">3</tspan><tspan dy="-3">-MMA</tspan></text>
<text x="608" y="518.4" font-size="12.75" text-anchor="start" font-weight="normal" fill="#1c1c1c" >M/Z 120.7/76.0.1</text>
<text x="608" y="533.2" font-size="12.75" text-anchor="start" font-weight="normal" fill="#1c1c1c" >Intensity 1.9e5</text>
<text x="605.2" y="596.6" font-size="12.75" text-anchor="start" font-weight="normal" fill="#1c1c1c" >MMA</text>
<text x="605.2" y="611.4" font-size="12.75" text-anchor="start" font-weight="normal" fill="#1c1c1c" >M/Z 117.1/73.0</text>
<text x="605.2" y="625.9" font-size="12.75" text-anchor="start" font-weight="normal" fill="#1c1c1c" >Intensity 1.4e5</text>
<path d="M581.9,498 L540.05,511.69 M552.6,499.3 L540.05,511.69 L558.2,516.4" fill="none" stroke="#c0403e" stroke-width="2.4" stroke-linecap="round" stroke-linejoin="miter"/>
<path d="M581.9,602 L539.94,629.16 M548.5,614 L539.94,629.16 L558.2,628.5" fill="none" stroke="#4a7fc3" stroke-width="2.4" stroke-linecap="round" stroke-linejoin="miter"/>
</svg></body></html>
